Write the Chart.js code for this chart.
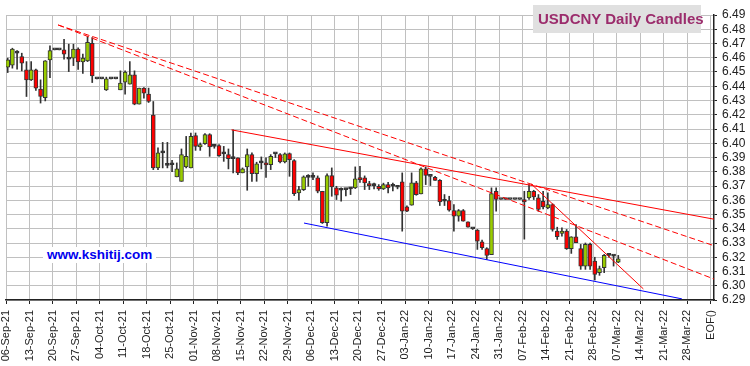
<!DOCTYPE html>
<html>
<head>
<meta charset="utf-8">
<script src="https://cdn.jsdelivr.net/npm/chart.js@4.4.0/dist/chart.umd.min.js"></script>
<style>
body { margin: 0; background: #fff; }
#wrap { position: relative; width: 750px; height: 366px; }
#title { position: absolute; left: 533px; top: 5px; width: 168px; height: 28px; box-sizing: border-box; padding-left: 5px;
  background: #e0e0e0; color: #9b2c6c; font: bold 15px "Liberation Sans", Arial, sans-serif; line-height: 28px; white-space: nowrap; }
#site { position: absolute; left: 43px; top: 247px; padding: 0 4px; background: #fff; color: #0000ee;
  font: bold 13.5px "Liberation Sans", Arial, sans-serif; line-height: 16px; white-space: nowrap; }
</style>
</head>
<body>
<div id="wrap">
  <canvas id="chart" width="750" height="366"></canvas>
  <div id="title">USDCNY Daily Candles</div>
  <div id="site">www.kshitij.com</div>
</div>
<script>
// Weekly tick labels (one tick every 5 trading days)
var weekLabels = ['06-Sep-21', '13-Sep-21', '20-Sep-21', '27-Sep-21', '04-Oct-21', '11-Oct-21', '18-Oct-21', '25-Oct-21',
    '01-Nov-21', '08-Nov-21', '15-Nov-21', '22-Nov-21', '29-Nov-21', '06-Dec-21', '13-Dec-21', '20-Dec-21', '27-Dec-21',
    '03-Jan-22', '10-Jan-22', '17-Jan-22', '24-Jan-22', '31-Jan-22', '07-Feb-22', '14-Feb-22', '21-Feb-22', '28-Feb-22',
    '07-Mar-22', '14-Mar-22', '21-Mar-22', '28-Mar-22', 'EOF()'];
var weekTicks = [0, 5, 10, 15, 20, 25, 30, 35, 40, 45, 50, 55, 60, 65, 70, 75, 80, 85, 90, 95, 100, 105, 110, 115,
    120, 125, 130, 135, 140, 145, 150];
var priceTicks = [6.29, 6.30, 6.31, 6.32, 6.33, 6.34, 6.35, 6.36, 6.37, 6.38, 6.39, 6.40, 6.41, 6.42, 6.43, 6.44,
    6.45, 6.46, 6.47, 6.48, 6.49];

// Daily candles, one per weekday from 06-Sep-21 to 07-Mar-22
var opens = [
    6.4534, 6.4548, 6.4632, 6.4608, 6.4515, 6.4445, 6.4515, 6.4380, 6.4320, 6.4585,
    6.4655, 6.4655, 6.4655, 6.4590, 6.4597, 6.4660, 6.4570, 6.4578, 6.4702, 6.4452,
    6.4452, 6.4375, 6.4452, 6.4452, 6.4375, 6.4429, 6.4415, 6.4480, 6.4275, 6.4387,
    6.4345, 6.4198, 6.3827, 6.3932, 6.3845, 6.3849, 6.3764, 6.3733, 6.3834, 6.3827,
    6.4053, 6.3974, 6.3997, 6.4060, 6.3978, 6.3983, 6.3925, 6.3920, 6.3892, 6.3897,
    6.3792, 6.3834, 6.3920, 6.3787, 6.3862, 6.3862, 6.3850, 6.3925, 6.3920, 6.3869,
    6.3927, 6.3878, 6.3652, 6.3675, 6.3761, 6.3761, 6.3757, 6.3663, 6.3442, 6.3773,
    6.3687, 6.3670, 6.3675, 6.3680, 6.3687, 6.3757, 6.3757, 6.3717, 6.3703, 6.3698,
    6.3680, 6.3710, 6.3698, 6.3691, 6.3729, 6.3554, 6.3565, 6.3722, 6.3645, 6.3820,
    6.3768, 6.3761, 6.3740, 6.3593, 6.3598, 6.3528, 6.3488, 6.3528, 6.3449, 6.3400,
    6.3390, 6.3309, 6.3260, 6.3218, 6.3663, 6.3605, 6.3605, 6.3605, 6.3605, 6.3605,
    6.3605, 6.3617, 6.3663, 6.3617, 6.3593, 6.3547, 6.3570, 6.3383, 6.3367, 6.3383,
    6.3260, 6.3344, 6.3260, 6.3138, 6.3290, 6.3173, 6.3092, 6.3127, 6.3213, 6.3208,
    6.3166];
var highs = [
    6.4597, 6.4667, 6.4650, 6.4632, 6.4573, 6.4573, 6.4520, 6.4445, 6.4580, 6.4683,
    6.4655, 6.4655, 6.4730, 6.4695, 6.4695, 6.4670, 6.4625, 6.4748, 6.4741, 6.4452,
    6.4452, 6.4464, 6.4452, 6.4452, 6.4508, 6.4508, 6.4573, 6.4508, 6.4387, 6.4391,
    6.4387, 6.4293, 6.3967, 6.4006, 6.4006, 6.3880, 6.3862, 6.3960, 6.4048, 6.4072,
    6.4072, 6.4002, 6.4067, 6.4067, 6.3990, 6.3990, 6.3978, 6.3960, 6.4095, 6.3897,
    6.3827, 6.3960, 6.3932, 6.3867, 6.3904, 6.3897, 6.3920, 6.3930, 6.3927, 6.3932,
    6.3932, 6.3885, 6.3698, 6.3771, 6.3780, 6.3792, 6.3771, 6.3663, 6.3785, 6.3827,
    6.3698, 6.3687, 6.3680, 6.3690, 6.3834, 6.3838, 6.3771, 6.3733, 6.3720, 6.3710,
    6.3720, 6.3726, 6.3720, 6.3700, 6.3792, 6.3560, 6.3792, 6.3733, 6.3827, 6.3834,
    6.3770, 6.3768, 6.3745, 6.3640, 6.3628, 6.3570, 6.3535, 6.3535, 6.3449, 6.3405,
    6.3395, 6.3320, 6.3267, 6.3687, 6.3687, 6.3605, 6.3605, 6.3605, 6.3605, 6.3605,
    6.3663, 6.3710, 6.3670, 6.3640, 6.3663, 6.3652, 6.3575, 6.3411, 6.3407, 6.3395,
    6.3344, 6.3430, 6.3290, 6.3300, 6.3300, 6.3200, 6.3138, 6.3220, 6.3220, 6.3215,
    6.3213];
var lows = [
    6.4496, 6.4527, 6.4520, 6.4508, 6.4328, 6.4440, 6.4370, 6.4282, 6.4297, 6.4461,
    6.4655, 6.4655, 6.4590, 6.4503, 6.4545, 6.4518, 6.4490, 6.4573, 6.4426, 6.4452,
    6.4452, 6.4370, 6.4452, 6.4452, 6.4375, 6.4345, 6.4415, 6.4270, 6.4275, 6.4317,
    6.4286, 6.3815, 6.3815, 6.3827, 6.3827, 6.3800, 6.3764, 6.3733, 6.3827, 6.3827,
    6.3950, 6.3950, 6.3992, 6.3908, 6.3965, 6.3908, 6.3873, 6.3820, 6.3792, 6.3780,
    6.3792, 6.3670, 6.3733, 6.3733, 6.3820, 6.3760, 6.3815, 6.3900, 6.3862, 6.3862,
    6.3768, 6.3633, 6.3600, 6.3668, 6.3698, 6.3745, 6.3652, 6.3437, 6.3418, 6.3628,
    6.3605, 6.3593, 6.3630, 6.3640, 6.3682, 6.3726, 6.3675, 6.3675, 6.3680, 6.3670,
    6.3675, 6.3652, 6.3665, 6.3680, 6.3383, 6.3520, 6.3565, 6.3635, 6.3645, 6.3710,
    6.3703, 6.3740, 6.3563, 6.3563, 6.3523, 6.3383, 6.3453, 6.3453, 6.3411, 6.3395,
    6.3255, 6.3255, 6.3185, 6.3218, 6.3523, 6.3605, 6.3605, 6.3605, 6.3605, 6.3605,
    6.3327, 6.3605, 6.3605, 6.3523, 6.3540, 6.3540, 6.3383, 6.3325, 6.3348, 6.3255,
    6.3227, 6.3302, 6.3115, 6.3115, 6.3115, 6.3040, 6.3073, 6.3092, 6.3200, 6.3138,
    6.3162];
var closes = [
    6.4585, 6.4660, 6.4632, 6.4562, 6.4445, 6.4515, 6.4387, 6.4328, 6.4578, 6.4650,
    6.4655, 6.4655, 6.4625, 6.4590, 6.4660, 6.4570, 6.4597, 6.4709, 6.4473, 6.4452,
    6.4452, 6.4452, 6.4452, 6.4452, 6.4422, 6.4499, 6.4480, 6.4275, 6.4387, 6.4352,
    6.4293, 6.3827, 6.3932, 6.3932, 6.3845, 6.3849, 6.3820, 6.3920, 6.3908, 6.4048,
    6.3978, 6.3990, 6.4060, 6.3974, 6.3978, 6.3913, 6.3925, 6.3892, 6.3892, 6.3792,
    6.3820, 6.3920, 6.3787, 6.3855, 6.3862, 6.3848, 6.3908, 6.3925, 6.3869, 6.3925,
    6.3885, 6.3647, 6.3675, 6.3764, 6.3761, 6.3761, 6.3663, 6.3442, 6.3773, 6.3694,
    6.3635, 6.3670, 6.3675, 6.3680, 6.3750, 6.3745, 6.3722, 6.3703, 6.3703, 6.3680,
    6.3710, 6.3687, 6.3698, 6.3691, 6.3523, 6.3523, 6.3722, 6.3640, 6.3820, 6.3775,
    6.3768, 6.3740, 6.3589, 6.3593, 6.3530, 6.3488, 6.3528, 6.3453, 6.3411, 6.3400,
    6.3313, 6.3267, 6.3213, 6.3647, 6.3605, 6.3605, 6.3605, 6.3605, 6.3605, 6.3605,
    6.3589, 6.3663, 6.3624, 6.3535, 6.3554, 6.3570, 6.3395, 6.3344, 6.3383, 6.3260,
    6.3344, 6.3302, 6.3138, 6.3290, 6.3138, 6.3080, 6.3120, 6.3213, 6.3213, 6.3208,
    6.3189];

// Trend lines: [trading day, price] end points
var upperDashed = [[11.1, 6.4830], [150.74, 6.3281]];
var lowerDashed = [[11.1, 6.4830], [150.74, 6.3047]];
var resistance = [[48.0, 6.4094], [150.74, 6.3467]];
var steepLine = [[111.8, 6.3715], [135.7, 6.2978]];
var support = [[63.45, 6.3440], [143.9, 6.2908]];

var UP = '#99cc00', DOWN = '#ff0000', EDGE = '#333333';

function toPoints(line) {
    return line.map(p => ({x: p[0], y: p[1]}));
}

// Build candle wicks and bodies
var wicks = [], bodies = [], bodyColors = [];
opens.forEach((o, i) => {
    let x = i + 0.36;
    wicks.push({x: x, y: [lows[i], highs[i]]});
    bodies.push({x: x, y: [o, closes[i]]});
    if (closes[i] > o) bodyColors.push(UP);
    else if (closes[i] < o) bodyColors.push(DOWN);
    else bodyColors.push(EDGE);
});

function trend(line, color, dash) {
    return {
        type: 'line',
        data: toPoints(line),
        borderColor: color,
        borderWidth: 1,
        borderDash: dash,
        pointRadius: 0,
        fill: false,
        order: 0
    };
}

var ctx = document.getElementById('chart').getContext('2d');
var chart = new Chart(ctx, {
    type: 'bar',
    data: {
        datasets: [
            trend(upperDashed, '#ff0000', [6, 3]),
            trend(lowerDashed, '#ff0000', [6, 3]),
            trend(resistance, '#ff0000', []),
            trend(steepLine, '#ff0000', []),
            trend(support, '#0000ff', []),
            {
                data: bodies,
                backgroundColor: bodyColors,
                borderColor: EDGE,
                borderWidth: 1,
                borderSkipped: false,
                barThickness: 4,
                minBarLength: 2,
                grouped: false,
                order: 1
            },
            {
                data: wicks,
                backgroundColor: EDGE,
                borderWidth: 0,
                barThickness: 1,
                grouped: false,
                order: 2
            }
        ]
    },
    options: {
        responsive: false,
        animation: false,
        devicePixelRatio: 1,
        layout: {padding: {top: 15, left: 6, right: 0, bottom: 0}},
        plugins: {legend: {display: false}, tooltip: {enabled: false}},
        scales: {
            x: {
                type: 'linear',
                min: 0,
                max: 150.74,
                offset: false,
                afterBuildTicks: function(scale) {
                    scale.ticks = weekTicks.map(v => ({value: v}));
                },
                afterFit: function(scale) {
                    scale.height = 66;
                    scale.paddingLeft = 0;
                    scale.paddingRight = 0;
                },
                grid: {color: '#c0c0c0', tickColor: '#222', tickLength: 4, offset: false},
                border: {color: '#222', width: 1.5},
                ticks: {
                    autoSkip: false,
                    minRotation: 90,
                    maxRotation: 90,
                    padding: 6,
                    color: '#222',
                    font: {family: '"Liberation Sans", Arial', size: 11},
                    callback: (value, index) => weekLabels[index]
                }
            },
            y: {
                position: 'right',
                min: 6.29,
                max: 6.49,
                afterBuildTicks: function(scale) {
                    scale.ticks = priceTicks.map(v => ({value: v}));
                },
                afterFit: function(scale) {
                    scale.width = 36;
                    scale.paddingTop = 0;
                    scale.paddingBottom = 0;
                },
                grid: {color: '#c0c0c0', tickColor: '#222', tickLength: 3},
                border: {color: '#222', width: 1.5},
                ticks: {
                    autoSkip: false,
                    padding: 5,
                    color: '#222',
                    font: {family: '"Liberation Sans", Arial', size: 12},
                    callback: value => value.toFixed(2)
                }
            }
        }
    }
});
</script>
</body>
</html>
